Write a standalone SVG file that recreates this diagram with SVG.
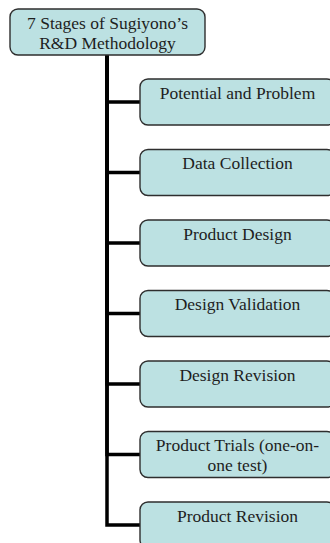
<svg xmlns="http://www.w3.org/2000/svg" width="330" height="543" viewBox="0 0 330 543">
<style>
.box{fill:#bce1e2;stroke:#2e2e2e;stroke-width:1.4}
.t{font-family:"Liberation Serif","Times New Roman",serif;font-size:17.5px;fill:#1e1e1e;text-anchor:middle}
.c{fill:none;stroke:#000;stroke-width:3.5;stroke-linejoin:miter}
</style>
<rect width="330" height="543" fill="#fff"/>
<g id="connectors">
<path class="c" d="M107,55 V102 H140"/>
<path class="c" d="M107,55 V172.5 H140"/>
<path class="c" d="M107,55 V243 H140"/>
<path class="c" d="M107,55 V313.5 H140"/>
<path class="c" d="M107,55 V384 H140"/>
<path class="c" d="M107,55 V454.5 H140"/>
<path class="c" d="M107,55 V525 H140"/>
</g>
<g id="root">
<rect class="box" x="10" y="9" width="195" height="46" rx="8"/>
<text class="t" x="107.5" y="29">7 Stages of Sugiyono’s</text>
<text class="t" x="107.5" y="48.5">R&amp;D Methodology</text>
</g>
<g id="n1">
<rect class="box" x="140" y="79" width="195" height="46" rx="8"/>
<text class="t" x="237.5" y="98.5">Potential and Problem</text>
</g>
<g id="n2">
<rect class="box" x="140" y="149.5" width="195" height="46" rx="8"/>
<text class="t" x="237.5" y="169">Data Collection</text>
</g>
<g id="n3">
<rect class="box" x="140" y="220" width="195" height="46" rx="8"/>
<text class="t" x="237.5" y="239.5">Product Design</text>
</g>
<g id="n4">
<rect class="box" x="140" y="290.5" width="195" height="46" rx="8"/>
<text class="t" x="237.5" y="310">Design Validation</text>
</g>
<g id="n5">
<rect class="box" x="140" y="361" width="195" height="46" rx="8"/>
<text class="t" x="237.5" y="380.5">Design Revision</text>
</g>
<g id="n6">
<rect class="box" x="140" y="431.5" width="195" height="46" rx="8"/>
<text class="t" x="237.5" y="451">Product Trials (one-on-</text>
<text class="t" x="237.5" y="470.5">one test)</text>
</g>
<g id="n7">
<rect class="box" x="140" y="502" width="195" height="46" rx="8"/>
<text class="t" x="237.5" y="521.5">Product Revision</text>
</g>
</svg>
